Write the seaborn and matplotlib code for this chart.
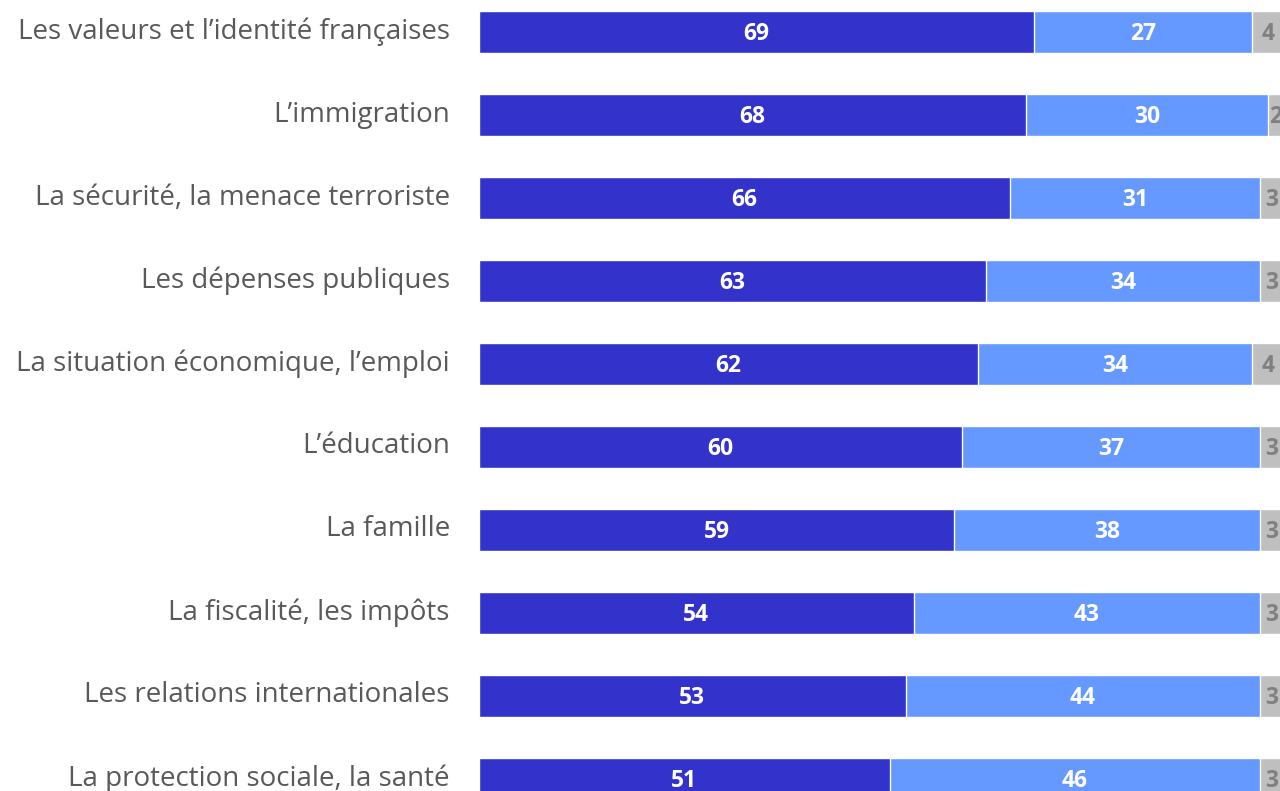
import matplotlib
matplotlib.use("Agg")
import matplotlib.pyplot as plt
import matplotlib.transforms as mtransforms
import seaborn as sns
import pandas as pd
import numpy as np

categories = [
    "Les valeurs et l\u2019identit\u00e9 fran\u00e7aises",
    "L\u2019immigration",
    "La s\u00e9curit\u00e9, la menace terroriste",
    "Les d\u00e9penses publiques",
    "La situation \u00e9conomique, l\u2019emploi",
    "L\u2019\u00e9ducation",
    "La famille",
    "La fiscalit\u00e9, les imp\u00f4ts",
    "Les relations internationales",
    "La protection sociale, la sant\u00e9",
]
dark_vals = [69, 68, 66, 63, 62, 60, 59, 54, 53, 51]
light_vals = [27, 30, 31, 34, 34, 37, 38, 43, 44, 46]
grey_vals = [4, 2, 3, 3, 4, 3, 3, 3, 3, 3]

DARK = "#3333CC"
LIGHT = "#6699FF"
GREY = "#BFBFBF"

sns.set_theme(style="white")
plt.rcParams['font.family'] = ['Open Sans', 'DejaVu Sans']

df = pd.DataFrame({"cat": categories, "dark": dark_vals, "light": light_vals, "grey": grey_vals})
df["c2"] = df["dark"] + df["light"]
df["c3"] = df["c2"] + df["grey"]

fig = plt.figure(figsize=(12.8, 7.91), dpi=100)
ax = fig.add_axes([479 / 1280, 0, 1 - 479 / 1280, 1])

sns.barplot(data=df, x="c3", y="cat", color=GREY, width=0.506, ax=ax, orient="h", saturation=1)
sns.barplot(data=df, x="c2", y="cat", color=LIGHT, width=0.506, ax=ax, orient="h", saturation=1)
sns.barplot(data=df, x="dark", y="cat", color=DARK, width=0.506, ax=ax, orient="h", saturation=1)

for i, (d, l, g) in enumerate(zip(dark_vals, light_vals, grey_vals)):
    ax.text(d / 2, i + 0.02, str(d), ha="center", va="center", color="white", fontsize=16.5, fontweight="bold")
    ax.text(d + l / 2, i + 0.02, str(l), ha="center", va="center", color="white", fontsize=16.5, fontweight="bold")
    ax.text(d + l + g / 2, i + 0.02, str(g), ha="center", va="center", color="#808080", fontsize=16.5, fontweight="bold", clip_on=False)

ax.set_xlim(0, 99.5)
ax.set_ylim(9.145, -0.386)
ax.set_xlabel("")
ax.set_ylabel("")
ax.set_xticks([])
ax.tick_params(axis="y", length=0, pad=21, labelsize=20, labelcolor="#595959")
offset = mtransforms.ScaledTranslation(0, 4 / 100, fig.dpi_scale_trans)
for lab in ax.get_yticklabels():
    lab.set_transform(lab.get_transform() + offset)
for s in ax.spines.values():
    s.set_visible(False)

fig.savefig("out.png", dpi=100)
